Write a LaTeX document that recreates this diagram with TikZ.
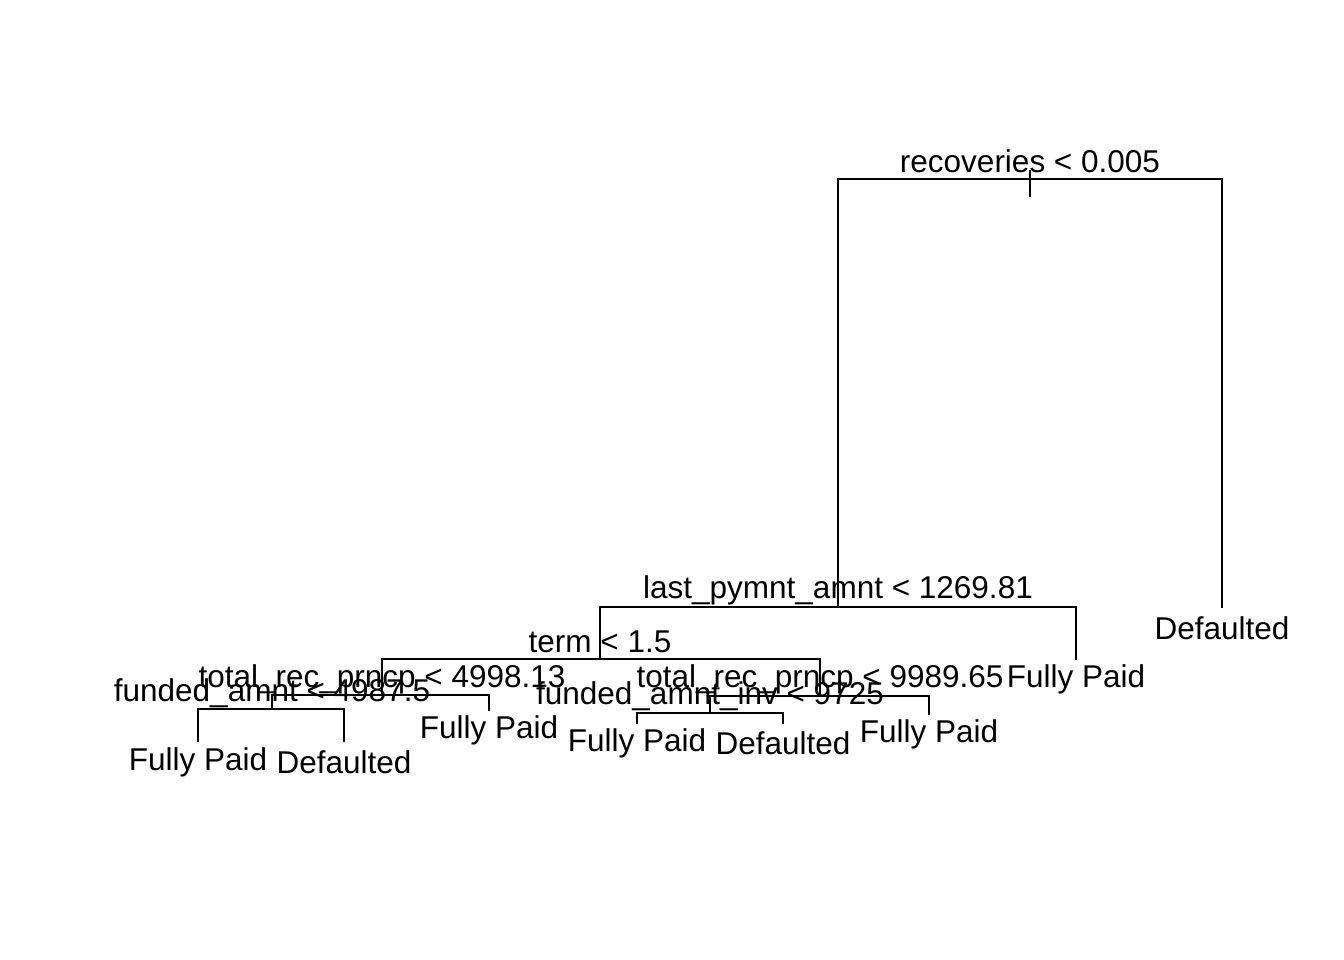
\documentclass[tikz,border=0pt]{standalone}
\usepackage{fontspec}
\setmainfont{Liberation Sans}
\usetikzlibrary{calc}
\tikzset{
  branch/.style={draw=black, line width=0.6pt, line cap=rect},
  splitlab/.style={anchor=base, inner sep=0pt, font=\fontsize{8.96pt}{10pt}\selectfont},
  leaflab/.style={splitlab}
}
\begin{document}
\begin{tikzpicture}[x=0.01cm, y=-0.01cm]
  \useasboundingbox (0,0) rectangle (1344,960);

  % tree nodes (split points and leaf ends)
  \coordinate (n1)  at (1030,179);
  \coordinate (n2)  at (838,607);
  \coordinate (n3)  at (1222,607);
  \coordinate (n4)  at (600,659);
  \coordinate (n5)  at (1076,659);
  \coordinate (n8)  at (382,695);
  \coordinate (n9)  at (820,696);
  \coordinate (n16) at (272,709);
  \coordinate (n17) at (489,710);
  \coordinate (n32) at (198,741);
  \coordinate (n33) at (344,741);
  \coordinate (n18) at (710,713);
  \coordinate (n19) at (929,714);
  \coordinate (n36) at (637,723);
  \coordinate (n37) at (783,723);
  \coordinate (stemtop) at (1030,171);
  \coordinate (stembot) at (1030,196);

  \draw[branch] (stemtop) -- (stembot);
  \foreach \p/\c in {n1/n2, n1/n3, n2/n4, n2/n5, n4/n8, n4/n9, n8/n16, n8/n17,
                     n16/n32, n16/n33, n9/n18, n9/n19, n18/n36, n18/n37}
    \draw[branch] (\p) -| (\c);

  % split labels
  \node[splitlab] (s1)  at (1030,172) {recoveries < 0.005};
  \node[splitlab] (s2)  at (838,598) {last\_pymnt\_amnt < 1269.81};
  \node[splitlab] (s4)  at (600,652) {term < 1.5};
  \node[splitlab] (s8)  at (382,687) {total\_rec\_prncp < 4998.13};
  \node[splitlab] (s9)  at (820,687) {total\_rec\_prncp < 9989.65};
  \node[splitlab] (s16) at (272,701) {funded\_amnt < 4987.5};
  \node[splitlab] (s18) at (710,704) {funded\_amnt\_inv < 9725};

  % leaf labels
  \node[leaflab] (f3)  at (1222,639) {Defaulted};
  \node[leaflab] (f5)  at (1076,687) {Fully Paid};
  \node[leaflab] (f17) at (489,738) {Fully Paid};
  \node[leaflab] (f32) at (198,770) {Fully Paid};
  \node[leaflab] (f33) at (344,773) {Defaulted};
  \node[leaflab] (f19) at (929,742) {Fully Paid};
  \node[leaflab] (f36) at (637,751) {Fully Paid};
  \node[leaflab] (f37) at (783,754) {Defaulted};
\end{tikzpicture}
\end{document}
